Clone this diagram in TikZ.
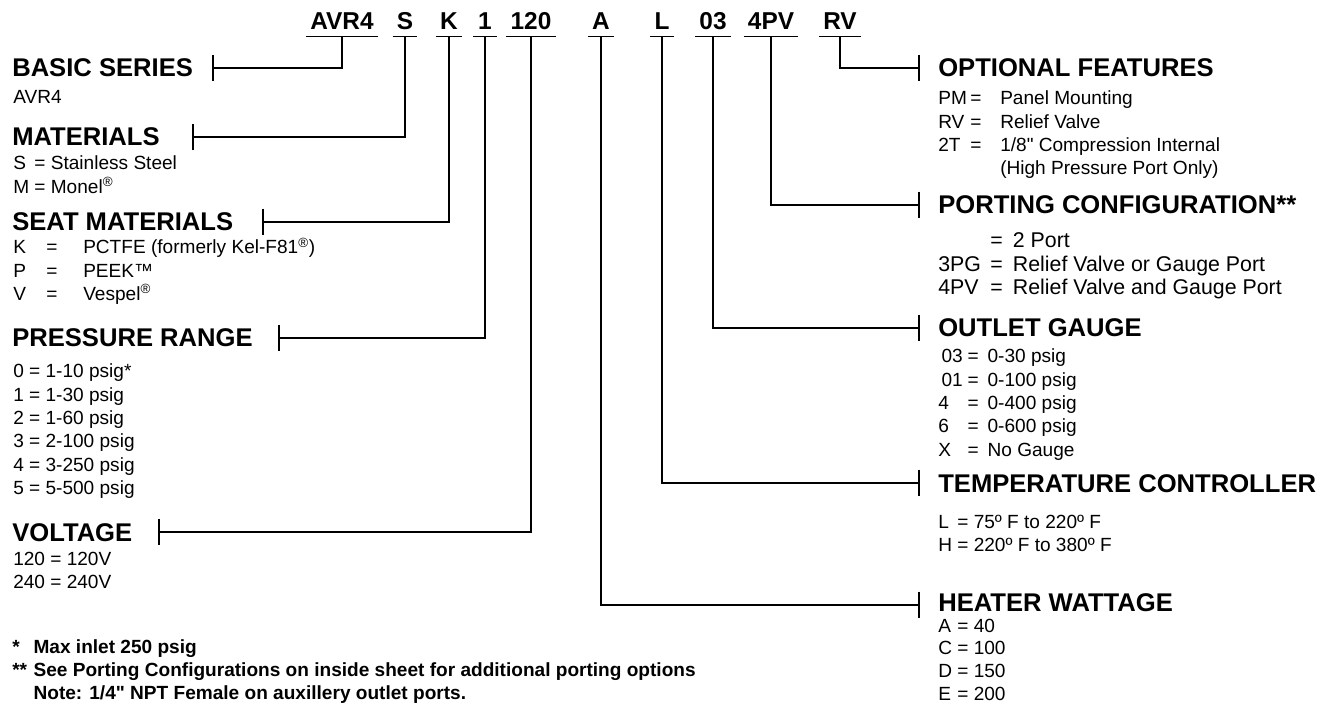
\documentclass[tikz,border=0pt]{standalone}
\usepackage{fontspec}
\setmainfont{Liberation Sans}
\usepackage{array}
\newcommand\dq{\XeTeXglyph\XeTeXcharglyph"22\relax}
\tikzset{
  code/.style={font=\fontsize{18.3pt}{22pt}\selectfont\bfseries, inner xsep=3pt, inner ysep=4.5pt, text depth=0pt, minimum width=17pt, anchor=base},
  head/.style={font=\fontsize{19.2pt}{23pt}\selectfont\bfseries, inner sep=0pt, anchor=base west},
  items/.style={font=\fontsize{14.3pt}{17.5pt}\selectfont, inner sep=0pt, anchor=base west},
  foot/.style={font=\fontsize{14.3pt}{17.6pt}\selectfont\bfseries, inner sep=0pt, anchor=base west},
  lead/.style={line width=0.9pt}
}
\begin{document}
\begin{tikzpicture}[x=0.75pt,y=-0.75pt]
\useasboundingbox (0,0) rectangle (1326,705);

% ordering code
\node[code] (c-avr4) at (342,30) {AVR4};
\node[code] (c-s) at (405,30) {S};
\node[code] (c-k) at (449,30) {K};
\node[code] (c-1) at (485,30) {1};
\node[code] (c-120) at (531,30) {120};
\node[code] (c-a) at (601,30) {A};
\node[code] (c-l) at (662,30) {L};
\node[code] (c-03) at (713,30) {03};
\node[code] (c-4pv) at (771,30) {4PV};
\node[code] (c-rv) at (840,30) {RV};
\foreach \c in {avr4,s,k,1,120,a,l,03,4pv,rv}
  \draw[lead] (c-\c.south west) -- (c-\c.south east);

% left column
\node[head] (h-basic) at (12,77) {BASIC SERIES};
\node[items] (i-basic) at (13,104) {AVR4};

\node[head] (h-mat) at (12,146) {MATERIALS};
\node[items] (i-mat) at (13,170) {\begin{tabular}[t]{@{}l@{ = }l@{}}
  S & Stainless Steel\\
  M & Monel\textsuperscript{®}
\end{tabular}};

\node[head] (h-seat) at (12,231) {SEAT MATERIALS};
\node[items] (i-seat) at (13,254) {\begin{tabular}[t]{@{}p{24.75pt}@{}p{27.75pt}@{}l@{}}
  K & = & PCTFE (formerly Kel-F81\textsuperscript{®})\\
  P & = & PEEK™\\
  V & = & Vespel\textsuperscript{®}
\end{tabular}};

\node[head] (h-press) at (12,347) {PRESSURE RANGE};
\node[items] (i-press) at (13,378) {\begin{tabular}[t]{@{}l@{ = }l@{}}
  0 & 1-10 psig*\\
  1 & 1-30 psig\\
  2 & 1-60 psig\\
  3 & 2-100 psig\\
  4 & 3-250 psig\\
  5 & 5-500 psig
\end{tabular}};

\node[head] (h-volt) at (12,541) {VOLTAGE};
\node[items] (i-volt) at (13,565) {\begin{tabular}[t]{@{}l@{ = }l@{}}
  120 & 120V\\
  240 & 240V
\end{tabular}};

\node[foot] (notes) at (12,653) {\begin{tabular}[t]{@{}p{16pt}@{}l@{}}
  * & Max inlet 250 psig\\
  {**} & See Porting Configurations on inside sheet for additional porting options\\
  {} & Note: 1/4\dq{} NPT Female on auxillery outlet ports.
\end{tabular}};

% right column
\node[head] (h-opt) at (938,77) {OPTIONAL FEATURES};
\node[items] (i-opt) at (938,105) {\begin{tabular}[t]{@{}p{24pt}@{}p{22.5pt}@{}l@{}}
  PM & = & Panel Mounting\\
  RV & = & Relief Valve\\
  2T & = & 1/8\dq{} Compression Internal\\
  {} & & (High Pressure Port Only)
\end{tabular}};

\node[head] (h-port) at (938,214) {PORTING CONFIGURATION**};
\node[items, font=\fontsize{16pt}{17.6pt}\selectfont] (i-port) at (938,248) {\begin{tabular}[t]{@{}p{39pt}@{}p{17pt}@{}l@{}}
  {} & = & 2 Port\\
  3PG & = & Relief Valve or Gauge Port\\
  4PV & = & Relief Valve and Gauge Port
\end{tabular}};

\node[head] (h-outlet) at (938,337) {OUTLET GAUGE};
\node[items] (i-outlet) at (938,363) {\begin{tabular}[t]{@{}p{22pt}@{}p{15pt}@{}l@{}}
  \hspace*{2.5pt}03 & = & 0-30 psig\\
  \hspace*{2.5pt}01 & = & 0-100 psig\\
  4 & = & 0-400 psig\\
  6 & = & 0-600 psig\\
  X & = & No Gauge
\end{tabular}};

\node[head] (h-temp) at (938,492) {TEMPERATURE CONTROLLER};
\node[items] (i-temp) at (938,528) {\begin{tabular}[t]{@{}l@{ = }l@{}}
  L & 75º F to 220º F\\
  H & 220º F to 380º F
\end{tabular}};

\node[head] (h-heat) at (938,611) {HEATER WATTAGE};
\node[items, font=\fontsize{14.3pt}{17.2pt}\selectfont] (i-heat) at (938,632) {\begin{tabular}[t]{@{}l@{ = }l@{}}
  A & 40\\
  C & 100\\
  D & 150\\
  E & 200
\end{tabular}};

% tick ends
\coordinate (t-basic) at (213,68);
\coordinate (t-mat) at (193,137);
\coordinate (t-seat) at (263,222);
\coordinate (t-press) at (279,338);
\coordinate (t-volt) at (159,532);
\coordinate (t-opt) at (919,68);
\coordinate (t-port) at (919,205);
\coordinate (t-outlet) at (919,328);
\coordinate (t-temp) at (919,483);
\coordinate (t-heat) at (919,605);
\foreach \t in {basic,mat,seat,press,volt,opt,port,outlet,temp,heat}
  \draw[lead] ([yshift=10pt]t-\t) -- ([yshift=-10pt]t-\t);

% leaders
\draw[lead] (c-avr4.south) |- (t-basic);
\draw[lead] (c-s.south) |- (t-mat);
\draw[lead] (c-k.south) |- (t-seat);
\draw[lead] (c-1.south) |- (t-press);
\draw[lead] (c-120.south) |- (t-volt);
\draw[lead] (c-rv.south) |- (t-opt);
\draw[lead] (c-4pv.south) |- (t-port);
\draw[lead] (c-03.south) |- (t-outlet);
\draw[lead] (c-l.south) |- (t-temp);
\draw[lead] (c-a.south) |- (t-heat);
\end{tikzpicture}
\end{document}
